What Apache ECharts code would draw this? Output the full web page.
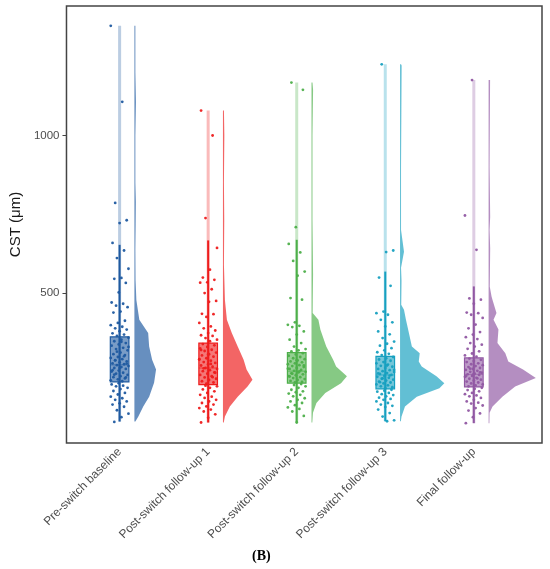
<!DOCTYPE html>
<html>
<head>
<meta charset="utf-8">
<title>CST raincloud</title>
<script src="https://cdn.jsdelivr.net/npm/echarts@6/dist/echarts.min.js"></script>
</head>
<body style="margin:0">
<div id="main" style="width:550px;height:569px;"></div>
<script type="text/javascript">

var groups = ['Pre-switch baseline', 'Post-switch follow-up 1', 'Post-switch follow-up 2',
    'Post-switch follow-up 3', 'Final follow-up'];
var colors = ['#1f5aa0', '#ee1c1c', '#4daf4a', '#17a0c0', '#9158a3'];
var yTicks = [500, 1000];

// box stats per group: min, q1, median, q3, upper whisker, max
var boxStats = [
    [92, 218, 272, 361, 653, 1348],
    [89, 209, 262, 341, 667, 1079],
    [89, 214, 252, 311, 669, 1168],
    [93, 196, 240, 299, 568, 1226],
    [87, 202, 242, 294, 521, 1176]
];

// raw CST values
var pts1 = [1348, 1107, 786, 731, 722, 659, 635, 611, 577, 548, 545, 532, 502, 470, 466, 460, 455, 441, 438, 412,
    405, 398, 393, 388, 384, 379, 372, 368, 364,
    358, 352, 347, 341, 337, 333, 326, 322, 318, 311, 306, 303, 297, 294, 290, 287, 283, 280, 277, 274, 271,
    268, 265, 262, 259, 254, 251, 247, 244, 240, 236, 233, 229, 226, 223, 220, 286, 276, 262, 255, 299, 314,
    329, 345, 241, 232,
    214, 210, 206, 204, 199, 195, 189, 183, 178, 171, 166, 161, 156, 150, 146, 139, 128, 117, 106, 91];
var pts2 = [1079, 1000, 738, 643, 574, 549, 542, 534, 533, 512, 500, 475, 472, 434, 433, 424, 405, 394, 388, 381,
    373, 366, 364, 357, 352, 347,
    338, 334, 329, 324, 320, 316, 311, 306, 302, 298, 293, 289, 285, 281, 278, 274, 270, 266, 262, 259, 255,
    252, 248, 244, 240, 236, 232, 228, 224, 220, 216, 212, 290, 275, 261, 247, 305, 319, 233,
    206, 204, 199, 194, 188, 183, 177, 171, 167, 161, 156, 151, 146, 140, 135, 130, 124, 115, 104, 89];
var pts3 = [1168, 1145, 709, 656, 629, 602, 568, 555, 484, 479, 407, 399, 396, 392, 378, 368, 352, 341, 330, 322,
    318, 315,
    309, 305, 301, 297, 293, 290, 286, 283, 280, 277, 274, 271, 268, 265, 262, 259, 256, 253, 250, 248, 245,
    242, 239, 236, 233, 230, 227, 224, 221, 218, 216, 260, 251, 244, 270, 287, 235,
    211, 208, 204, 199, 193, 188, 185, 181, 177, 172, 166, 161, 156, 151, 144, 137, 132, 124, 110, 89];
var pts4 = [1226, 635, 630, 549, 523, 441, 436, 431, 415, 407, 394, 378, 369, 357, 346, 339, 333, 325, 318, 312,
    307, 303,
    297, 293, 289, 285, 281, 277, 273, 269, 266, 262, 259, 255, 252, 249, 246, 243, 240, 237, 234, 231, 228,
    225, 222, 219, 216, 213, 210, 207, 204, 201, 198, 245, 238, 229, 256, 270, 217,
    193, 190, 187, 183, 179, 176, 172, 168, 164, 161, 156, 151, 146, 142, 138, 130, 119, 108, 96, 93];
var pts5 = [1176, 746, 637, 483, 479, 466, 438, 436, 431, 421, 400, 388, 376, 368, 360, 354, 341, 336, 330, 323,
    315, 308, 302, 298,
    292, 288, 284, 281, 277, 274, 271, 268, 265, 262, 259, 256, 253, 250, 247, 244, 242, 240, 237, 234, 231,
    228, 225, 222, 219, 216, 213, 210, 207, 204, 248, 241, 236, 229, 260,
    199, 196, 192, 188, 183, 179, 175, 172, 167, 161, 156, 152, 149, 143, 135, 127, 118, 106, 87];

// half-violin density: [CST, relative density]
var vio1 = [[92, 1], [108, 4], [140, 9], [171, 15], [215, 20], [257, 22], [288, 18], [330, 15], [373, 14],
    [415, 5], [478, 2], [540, 1.2], [640, 1], [720, 1.3], [790, 1.5], [850, 1], [1000, 1], [1107, 1.6],
    [1200, 1], [1348, 1]];
var vio2 = [[89, 0.8], [108, 2], [140, 7], [171, 15], [203, 25], [225, 30], [257, 24], [288, 21], [330, 15],
    [373, 9], [415, 4], [478, 2], [590, 1], [730, 1.3], [850, 1], [1000, 1.4], [1079, 1]];
var vio3 = [[89, 0.8], [120, 1.5], [151, 5], [183, 14], [214, 30], [236, 36], [267, 25], [288, 22], [330, 15],
    [384, 9], [415, 7], [437, 1.2], [480, 1.3], [560, 1.6], [650, 1.3], [732, 1], [900, 1], [1000, 1],
    [1145, 1.6], [1168, 1]];
var vio4 = [[93, 0.8], [108, 1.5], [140, 5], [171, 17], [198, 40], [214, 45], [236, 37], [267, 22], [283, 19],
    [309, 20], [330, 12], [373, 9], [415, 6], [447, 4], [463, 1.2], [540, 1.5], [580, 1], [631, 4], [700, 1],
    [900, 1], [1222, 1.6], [1226, 1]];
var vio5 = [[87, 0.8], [120, 1], [140, 4], [171, 14], [203, 27], [230, 48], [257, 35], [283, 20], [309, 17],
    [341, 9], [384, 10], [415, 5], [437, 8], [478, 4], [489, 3], [520, 1.2], [642, 1.6], [700, 1], [742, 1.6],
    [900, 1], [1176, 1.5]];

var points = [pts1, pts2, pts3, pts4, pts5];
var violins = [vio1, vio2, vio3, vio4, vio5];

var BOX_HALF = 0.105;   // half box width (category units)
var VIO_OFF = 0.167;    // violin left edge offset
var VIO_SCALE = 1 / 90; // density -> category units

function rgba(hex, a) {
    var n = parseInt(hex.slice(1), 16);
    return 'rgba(' + (n >> 16) + ',' + ((n >> 8) & 255) + ',' + (n & 255) + ',' + a + ')';
}

// fixed jitter pattern, just spreads the dots across the box width
function jit(i) {
    return (((i * 13) % 21) - 10) / 100;
}

var chart = echarts.init(document.getElementById('main'));

var series = [];

// violins
series.push({
    type: 'custom',
    z: 1,
    silent: true,
    data: groups.map(function (g, i) { return [i + 1]; }),
    renderItem: function (params, api) {
        var k = api.value(0);
        var v = violins[params.dataIndex];
        var x0 = k + VIO_OFF;
        var pts = [];
        for (var j = 0; j < v.length; j++) {
            pts.push(api.coord([x0 + v[j][1] * VIO_SCALE, v[j][0]]));
        }
        pts.push(api.coord([x0, v[v.length - 1][0]]));
        pts.push(api.coord([x0, v[0][0]]));
        return {
            type: 'polygon',
            shape: { points: pts },
            style: { fill: rgba(colors[params.dataIndex], 0.68), stroke: null }
        };
    }
});

// range line + box + whisker
series.push({
    type: 'custom',
    z: 2,
    silent: true,
    data: boxStats.map(function (b, i) { return [i + 1].concat(b); }),
    renderItem: function (params, api) {
        var k = api.value(0);
        var c = colors[params.dataIndex];
        var pMin = api.coord([k, api.value(1)]);
        var pMax = api.coord([k, api.value(6)]);
        var pTop = api.coord([k, api.value(5)]);
        var a = api.coord([k - BOX_HALF, api.value(2)]);
        var b = api.coord([k + BOX_HALF, api.value(4)]);
        var m = api.coord([k, api.value(3)]);
        return {
            type: 'group',
            children: [
                { type: 'line', shape: { x1: pMin[0], y1: pMin[1], x2: pMax[0], y2: pMax[1] },
                    style: { stroke: rgba(c, 0.3), lineWidth: 3 } },
                { type: 'rect', shape: { x: a[0], y: b[1], width: b[0] - a[0], height: a[1] - b[1] },
                    style: { fill: rgba(c, 0.6), stroke: c, lineWidth: 1.2 } },
                { type: 'line', shape: { x1: pMin[0], y1: pMin[1], x2: pTop[0], y2: pTop[1] },
                    style: { stroke: c, lineWidth: 2 } },
                { type: 'line', shape: { x1: a[0], y1: m[1], x2: b[0], y2: m[1] },
                    style: { stroke: rgba(c, 0.7), lineWidth: 1 } }
            ]
        };
    }
});

// jittered points
points.forEach(function (p, gi) {
    series.push({
        type: 'scatter',
        z: 3,
        silent: true,
        symbolSize: 2.8,
        itemStyle: { color: colors[gi], opacity: 0.95 },
        data: p.map(function (v, i) { return [gi + 1 + jit(i + gi * 5), v]; })
    });
});

var option = {
    animation: false,
    textStyle: { fontFamily: 'Liberation Sans' },
    grid: {
        left: 59, right: 8, top: 6, bottom: 126,
        show: true, borderColor: '#444', borderWidth: 1.5, backgroundColor: '#fff'
    },
    xAxis: {
        type: 'value',
        min: 0.4,
        max: 5.77,
        axisLine: { show: false },
        axisTick: { show: false },
        splitLine: { show: false },
        axisLabel: {
            customValues: [1, 2, 3, 4, 5],
            formatter: function (v) { return groups[Math.round(v) - 1]; },
            rotate: 45,
            margin: 7,
            fontSize: 12,
            color: '#4d4d4d'
        }
    },
    yAxis: {
        type: 'value',
        min: 24,
        max: 1411,
        name: 'CST (μm)',
        nameLocation: 'middle',
        nameGap: 36,
        nameTextStyle: { fontSize: 15, color: '#1a1a1a' },
        axisLine: { show: false },
        axisTick: { show: true, customValues: yTicks, length: 4, lineStyle: { color: '#444' } },
        splitLine: { show: false },
        axisLabel: {
            customValues: yTicks,
            formatter: function (v) { return String(v); },
            fontSize: 11.5,
            color: '#4d4d4d',
            margin: 7
        }
    },
    graphic: [{
        type: 'text',
        left: 252,
        top: 549,
        style: { text: '(B)', font: 'bold 14px "Liberation Serif"', fill: '#000' }
    }],
    series: series
};

chart.setOption(option);

</script>
</body>
</html>
